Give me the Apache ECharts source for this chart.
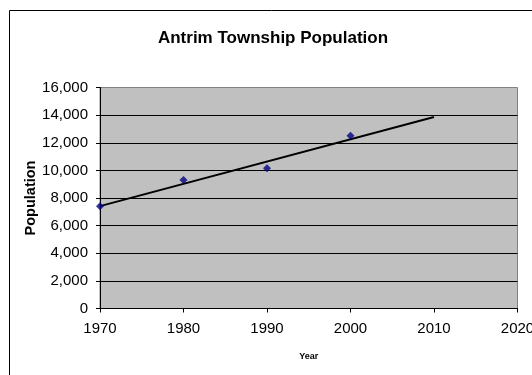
<!DOCTYPE html>
<html>
<head>
<meta charset="utf-8">
<script src="https://cdn.jsdelivr.net/npm/echarts@6/dist/echarts.min.js"></script>
<style>
  html, body { margin: 0; padding: 0; background: #fff; }
  #chart { width: 532px; height: 375px; }
</style>
</head>
<body>
<div id="chart"></div>
<script>
// census values
const years = [1970, 1980, 1990, 2000];
const population = [7400, 9300, 10150, 12500];
// linear trend line endpoints (as drawn in the picture)
const trendYears = [1970, 2010];
const trendValues = [7410, 13870];

const font = "'Liberation Sans', Arial, sans-serif";

const chart = echarts.init(document.getElementById("chart"), null, { renderer: "canvas" });

chart.setOption({
  backgroundColor: "#ffffff",
  animation: false,
  graphic: [
    {
      type: "rect",
      shape: { x: 9.5, y: 10.5, width: 600, height: 500 },
      style: { fill: "none", stroke: "#000", lineWidth: 1 },
      silent: true
    },
    {
      type: "text",
      style: {
        text: "Antrim Township Population",
        x: 273,
        y: 38,
        textAlign: "center",
        textVerticalAlign: "middle",
        font: "bold 17px " + font,
        fill: "#000"
      }
    }
  ],
  grid: {
    left: 100,
    right: 14.5,
    top: 87.5,
    bottom: 66.5,
    outerBoundsMode: "none",
    containLabel: false,
    show: true,
    backgroundColor: "#c0c0c0",
    borderColor: "#808080",
    borderWidth: 1
  },
  xAxis: {
    type: "value",
    min: 1970,
    max: 2020,
    interval: 10,
    name: "Year",
    nameLocation: "middle",
    nameGap: 44,
    nameMoveOverlap: false,
    nameTextStyle: { fontFamily: font, fontWeight: "bold", fontSize: 9, color: "#000" },
    axisLine: { show: true, onZero: false, lineStyle: { color: "#000", width: 1 } },
    axisTick: { show: true, length: 4, lineStyle: { color: "#000" } },
    axisLabel: {
      margin: 13,
      fontFamily: font,
      fontSize: 15,
      color: "#000",
      showMaxLabel: true,
      hideOverlap: false,
      formatter: v => String(v)
    },
    splitLine: { show: false }
  },
  yAxis: {
    type: "value",
    min: 0,
    max: 16000,
    interval: 2000,
    name: "Population",
    nameLocation: "middle",
    nameGap: 62,
    nameRotate: 90,
    nameMoveOverlap: false,
    nameTextStyle: { fontFamily: font, fontWeight: "bold", fontSize: 14.5, color: "#000" },
    axisLine: { show: true, lineStyle: { color: "#000", width: 1 } },
    axisTick: { show: true, length: 4, lineStyle: { color: "#000" } },
    axisLabel: {
      margin: 12,
      fontFamily: font,
      fontSize: 15,
      color: "#000",
      formatter: v => v.toLocaleString("en-US")
    },
    splitLine: { show: true, showMaxLine: false, lineStyle: { color: "#000", width: 1 } }
  },
  series: [
    {
      name: "Trend",
      type: "line",
      data: trendYears.map((y, i) => [y, trendValues[i]]),
      showSymbol: false,
      lineStyle: { color: "#000", width: 2 },
      z: 2
    },
    {
      name: "Population",
      type: "scatter",
      data: years.map((y, i) => [y, population[i]]),
      symbol: "diamond",
      symbolSize: 8,
      itemStyle: { color: "#000080" },
      z: 3
    }
  ]
});
</script>
</body>
</html>
